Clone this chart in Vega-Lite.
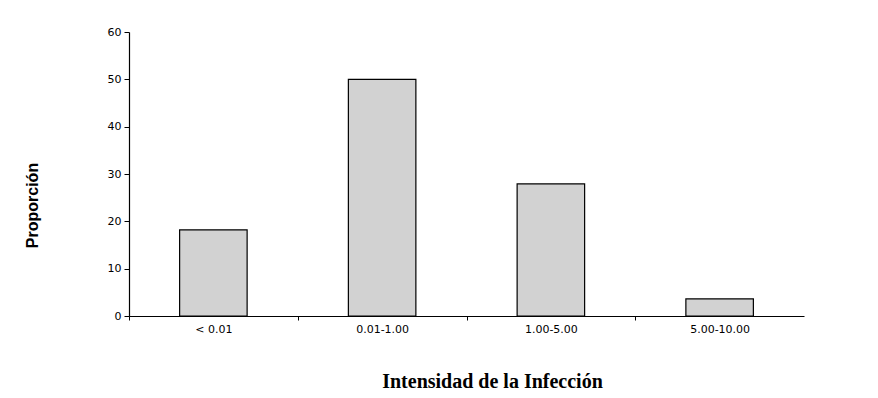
{
  "$schema": "https://vega.github.io/schema/vega-lite/v6.json",
  "autosize": "none",
  "width": 675,
  "height": 284,
  "padding": {"left": 129, "top": 32, "right": 74, "bottom": 82},
  "background": "white",
  "config": {"view": {"stroke": null}, "font": "Liberation Sans"},
  "data": {"values": [
    {"cat": "< 0.01", "value": 18.2},
    {"cat": "0.01-1.00", "value": 50},
    {"cat": "1.00-5.00", "value": 27.9},
    {"cat": "5.00-10.00", "value": 3.6}
  ]},
  "mark": {"type": "bar", "fill": "#d2d2d2", "stroke": "black", "strokeWidth": 1.2, "width": {"band": 0.4}},
  "encoding": {
    "x": {"field": "cat", "type": "nominal", "sort": null,
      "scale": {"paddingInner": 0, "paddingOuter": 0},
      "axis": {"title": "Intensidad de la Infección", "labelAngle": 0, "labelFont": "DejaVu Sans", "labelFontSize": 11, "labelColor": "black", "labelPadding": 3,
        "tickOffset": -84.375, "labelOffset": 84.375, "tickSize": 4, "tickColor": "black", "domainColor": "black", "domainWidth": 1.2,
        "titleFont": "Liberation Serif", "titleFontSize": 20, "titleFontWeight": "bold", "titleColor": "black",
        "titleX": 363, "titleY": 65, "titleBaseline": "middle"}},
    "y": {"field": "value", "type": "quantitative",
      "scale": {"domain": [0, 60]},
      "axis": {"title": "Proporción", "values": [0, 10, 20, 30, 40, 50, 60], "grid": false, "labelFont": "DejaVu Sans", "labelFontSize": 11, "labelColor": "black", "labelPadding": 3,
        "tickSize": 5, "tickColor": "black", "domainColor": "black", "domainWidth": 1.2,
        "titleFont": "Liberation Sans", "titleFontSize": 16, "titleFontWeight": "bold", "titleColor": "black",
        "titleAngle": -90, "titleX": -97, "titleY": 173, "titleBaseline": "middle", "titleAlign": "center"}}
  }
}
